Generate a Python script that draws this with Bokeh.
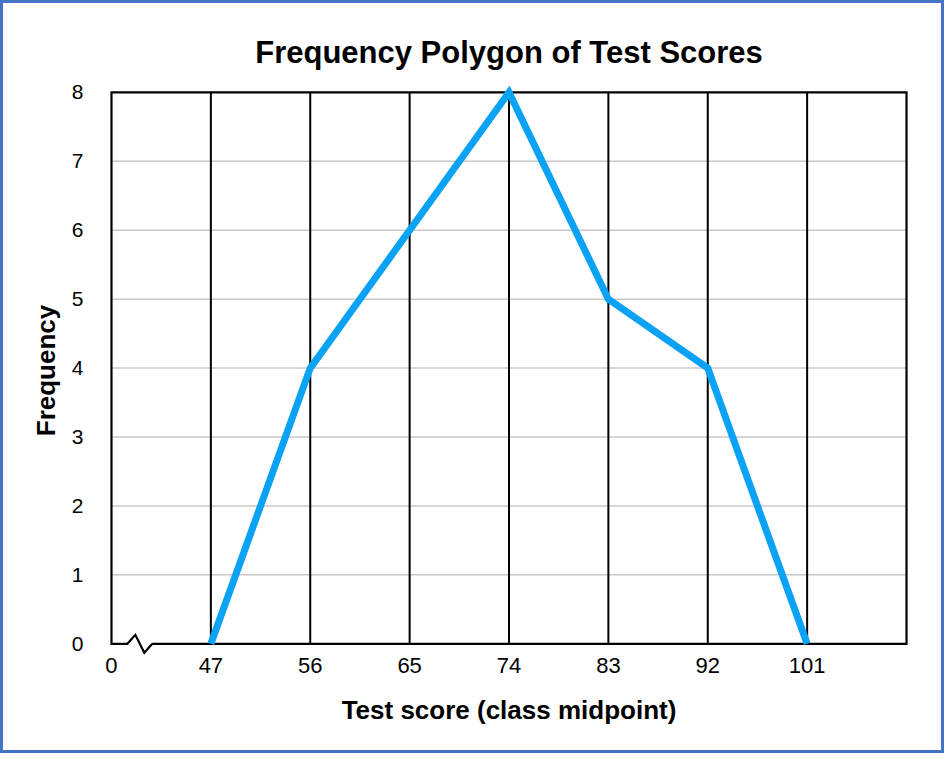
from bokeh.plotting import figure
from bokeh.models import FixedTicker, Range1d
from bokeh.embed import file_html
from bokeh.resources import INLINE

# ---- data ----
tick_labels = ["0", "47", "56", "65", "74", "83", "92", "101"]
midpoints = [47, 56, 65, 74, 83, 92, 101]
frequency = [0, 4, 6, 8, 5, 4, 0]
y_ticks = [0, 1, 2, 3, 4, 5, 6, 7, 8]

# axis-break symbol on the x axis (in axis units)
break_x = [0.16, 0.24, 0.33, 0.41]
break_y = [0.0, 0.13, -0.13, 0.0]

FONT = "Liberation Sans"

x_pos = [tick_labels.index(str(m)) for m in midpoints]
x_end = len(tick_labels)
y_top = max(y_ticks)

p = figure(width=944, height=753,
           x_range=Range1d(-0.02, x_end + 0.02),
           y_range=Range1d(-0.17, y_top + 0.1),
           output_backend="svg", toolbar_location=None,
           title="Frequency Polygon of Test Scores",
           min_border_left=106, min_border_right=39,
           min_border_top=82, min_border_bottom=101)
p.styles = {"border": "3px solid #4472C4"}
p.outline_line_color = None
p.xgrid.grid_line_color = None
p.ygrid.grid_line_color = None
p.background_fill_color = "white"
p.border_fill_color = "white"

p.title.text_font = FONT
p.title.text_font_size = "31px"
p.title.text_font_style = "bold"
p.title.align = "center"
p.title.text_color = "black"
p.title.standoff = 31

# horizontal gray grid lines
inner = [t for t in y_ticks if 0 < t < y_top]
p.segment(x0=[0] * len(inner), y0=inner, x1=[x_end] * len(inner), y1=inner,
          line_color="#c8c8c8", line_width=1.5)
# vertical black lines at each class midpoint
p.segment(x0=x_pos, y0=[0] * len(x_pos), x1=x_pos, y1=[y_top] * len(x_pos),
          line_color="black", line_width=2)
# frame with axis break
fx = [break_x[-1], x_end, x_end, 0, 0] + break_x
fy = [0, 0, y_top, y_top, 0] + break_y
p.line(fx, fy, line_color="black", line_width=2.2, line_join="miter")

# frequency polygon
p.line(x_pos, frequency, line_color="#0AA2F5", line_width=7,
       line_join="miter", line_cap="butt")

# axes
xa = p.xaxis[0]
xa.ticker = FixedTicker(ticks=list(range(len(tick_labels))))
xa.major_label_overrides = {i: lab for i, lab in enumerate(tick_labels)}
ya = p.yaxis[0]
ya.ticker = FixedTicker(ticks=y_ticks)
for ax in (xa, ya):
    ax.axis_line_color = None
    ax.major_tick_line_color = None
    ax.minor_tick_line_color = None
    ax.major_label_text_font = FONT
    ax.major_label_text_color = "black"
    ax.axis_label_text_font = FONT
    ax.axis_label_text_font_size = "26px"
    ax.axis_label_text_font_style = "bold"
    ax.axis_label_text_color = "black"
xa.major_label_text_font_size = "22px"
ya.major_label_text_font_size = "21px"
xa.axis_label = "Test score (class midpoint)"
ya.axis_label = "Frequency"
xa.major_label_standoff = -4
xa.axis_label_standoff = 19
ya.major_label_standoff = 20
ya.axis_label_standoff = 8

open("out.html", "w").write(file_html(p, INLINE))
